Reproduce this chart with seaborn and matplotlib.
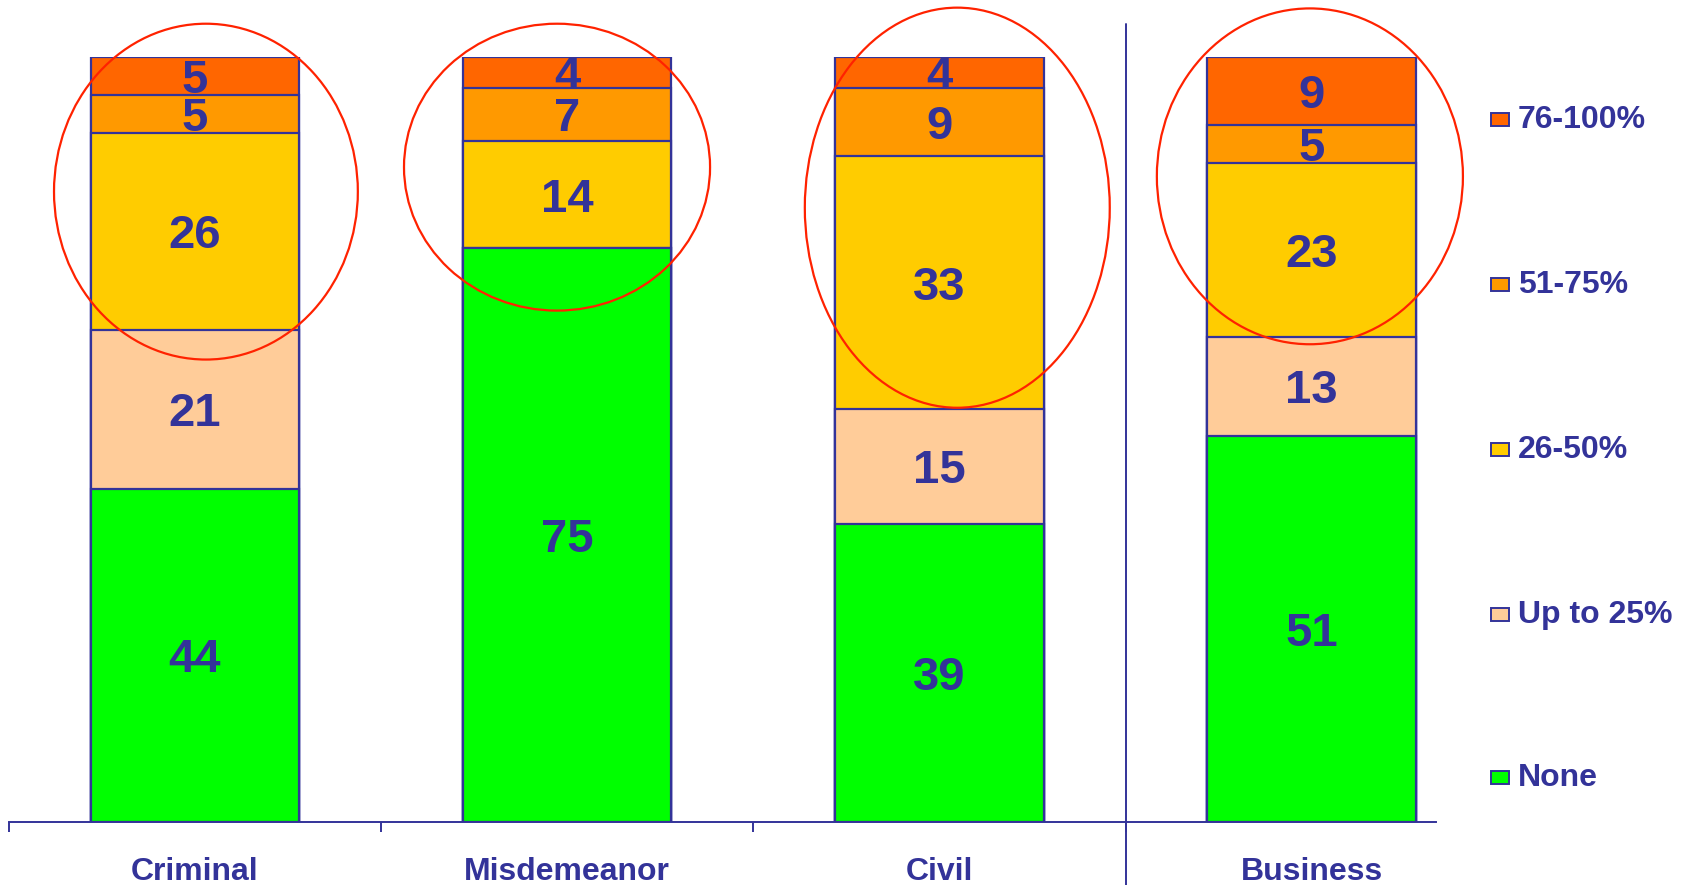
import matplotlib
matplotlib.use("Agg")
import matplotlib.pyplot as plt
from matplotlib.patches import Ellipse, Rectangle
import seaborn as sns
import numpy as np
import pandas as pd

# Share of cases by level, per court type
categories = ["Criminal", "Misdemeanor", "Civil", "Business"]
levels = ["None", "Up to 25%", "26-50%", "51-75%", "76-100%"]
none_vals = [44, 75, 39, 51]
upto25_vals = [21, 0, 15, 13]
p26_50_vals = [26, 14, 33, 23]
p51_75_vals = [5, 7, 9, 5]
p76_100_vals = [5, 4, 4, 9]

colors = ["#00FF00", "#FFCC99", "#FFCC00", "#FF9900", "#FF6600"]
INK = "#333399"
RING = "#FF2200"

sns.set_style("white")
plt.rcParams["font.family"] = ["Liberation Sans", "DejaVu Sans"]

series = [none_vals, upto25_vals, p26_50_vals, p51_75_vals, p76_100_vals]
vals = np.array(series, dtype=float)          # levels x categories
totals = vals.sum(axis=0)
shares = vals / totals * 100.0
cum = np.cumsum(shares, axis=0)

fig = plt.figure(figsize=(16.84, 8.85), dpi=100)
ax = fig.add_axes([0.0051, 0.0712, 0.8844, 0.8644])

# stacked bars: draw the cumulative layers from the top one down
for i in range(len(levels) - 1, -1, -1):
    df = pd.DataFrame({"cat": categories, "h": cum[i]})
    sns.barplot(data=df, x="cat", y="h", order=categories, color=colors[i],
                saturation=1, width=0.56, edgecolor=INK, linewidth=1.6, ax=ax)

# value labels in the middle of each segment
for i in range(len(levels)):
    for j in range(len(categories)):
        if vals[i, j] <= 0:
            continue
        mid = cum[i, j] - shares[i, j] / 2.0
        ax.text(j, mid, f"{int(vals[i, j])}", ha="center",
                va="center_baseline", fontsize=34, fontweight="bold",
                color=INK)

ax.set_xlim(-0.5, 3.5)
ax.set_ylim(0, 100)
ax.set_xlabel("")
ax.set_ylabel("")
ax.set_yticks([])
for s in ["left", "right", "top"]:
    ax.spines[s].set_visible(False)
ax.spines["bottom"].set_color(INK)
ax.spines["bottom"].set_linewidth(1.4)
ax.spines["bottom"].set_bounds(-0.5, 3.335)

ax.set_xticks(range(len(categories)))
ax.set_xticklabels(categories, fontsize=23, fontweight="bold", color=INK)
ax.tick_params(axis="x", which="major", bottom=False, length=0, pad=25)
ax.set_xticks([-0.5, 0.5, 1.5, 2.5], minor=True)
ax.tick_params(axis="x", which="minor", bottom=True, length=7.5, width=1.4,
               color=INK, direction="out")

# separator between court groups
ax.plot([2.5, 2.5], [-9, 104.3], color=INK, lw=1.4, clip_on=False)

# highlight rings around the upper segments
rings = [(0.03, 82.4, 0.816, 43.9), (0.973, 85.6, 0.822, 37.5),
         (2.048, 80.3, 0.819, 52.3), (2.995, 84.4, 0.822, 43.9)]
for cx, cy, w, h in rings:
    ax.add_patch(Ellipse((cx, cy), w, h, fill=False, edgecolor=RING,
                         lw=1.6, clip_on=False, zorder=5))

# legend, top level first
legend_y = [120, 285, 450, 615, 778]
W, H = 1684.0, 885.0
for k, i in enumerate(range(len(levels) - 1, -1, -1)):
    yc = legend_y[k]
    fig.add_artist(Rectangle((1491 / W, 1 - (yc + 6) / H), 18 / W, 13 / H,
                             transform=fig.transFigure, facecolor=colors[i],
                             edgecolor=INK, lw=1.4))
    fig.text(1518 / W, 1 - yc / H, levels[i], ha="left", va="center",
             fontsize=23, fontweight="bold", color=INK)

fig.savefig("out.png", dpi=100)
